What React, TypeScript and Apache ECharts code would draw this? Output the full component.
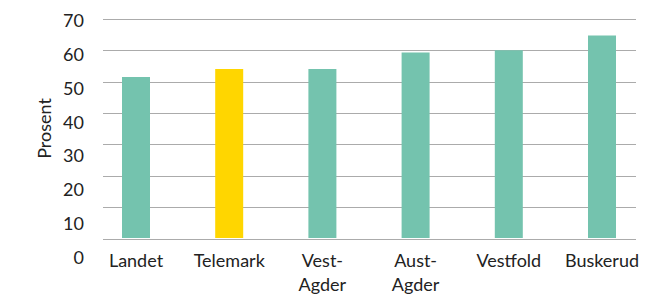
import React, { useEffect, useRef } from "react";
import * as echarts from "echarts";

const categories = ["Landet", "Telemark", "Vest-\nAgder", "Aust-\nAgder", "Vestfold", "Buskerud"];
const values = [51.5, 54, 54, 59.3, 60, 64.7];
const highlight = "Telemark";
const tickMin = 0;
const tickMax = 70;
const tickStep = 10;

const TEAL = "#74c3ae";
const YELLOW = "#ffd600";
const TEXT = "#222222";
const FONT = "Lato, 'Open Sans', sans-serif";

export default function App() {
  const ref = useRef<HTMLDivElement>(null);
  useEffect(() => {
    if (!ref.current) return;
    const chart = echarts.init(ref.current, undefined, { renderer: "svg" });
    chart.setOption({
      animation: false,
      textStyle: { fontFamily: FONT, color: TEXT },
      grid: [
        { left: 89.4, right: 9.4, top: 19, bottom: 57, containLabel: false },
        { left: 103, right: 22, top: 19, bottom: 57, containLabel: false },
        { left: 92, width: 10, top: 20, bottom: 39, containLabel: false },
      ],
      xAxis: [
        {
          type: "category",
          gridIndex: 0,
          data: categories,
          axisLine: { show: false },
          axisTick: { show: false },
          axisLabel: {
            margin: 10,
            fontSize: 18,
            lineHeight: 24,
            color: TEXT,
            fontFamily: FONT,
            interval: 0,
          },
        },
        { type: "value", gridIndex: 1, show: false, min: 0, max: 1 },
        { type: "value", gridIndex: 2, show: false, min: 0, max: 1 },
      ],
      yAxis: [
        {
          type: "value",
          gridIndex: 0,
          min: tickMin,
          max: tickMax,
          interval: tickStep,
          axisLabel: { show: false },
          axisLine: { show: false },
          axisTick: { show: false },
          splitLine: { show: false },
          name: "Prosent",
          nameLocation: "middle",
          nameRotate: 90,
          nameGap: 36,
          nameTextStyle: { fontSize: 18, color: TEXT, fontFamily: FONT },
        },
        {
          type: "value",
          gridIndex: 1,
          min: tickMin,
          max: tickMax,
          interval: tickStep,
          axisLabel: { show: false },
          axisLine: { show: false },
          axisTick: { show: false },
          splitLine: { show: true, lineStyle: { color: "#ababab", width: 1 } },
        },
        {
          type: "value",
          gridIndex: 2,
          min: tickMin,
          max: tickMax,
          interval: tickStep,
          axisLine: { show: false },
          axisTick: { show: false },
          splitLine: { show: false },
          axisLabel: { margin: 8, fontSize: 18, color: TEXT, fontFamily: FONT },
        },
      ],
      series: [
        {
          type: "bar",
          xAxisIndex: 0,
          yAxisIndex: 0,
          barWidth: 28,
          z: 5,
          data: values.map((v, i) => ({
            value: v,
            itemStyle: { color: categories[i] === highlight ? YELLOW : TEAL },
          })),
        },
      ],
    });
    return () => chart.dispose();
  }, []);
  return <div ref={ref} style={{ width: 658, height: 296, position: "absolute", left: 0, top: 0 }} />;
}
